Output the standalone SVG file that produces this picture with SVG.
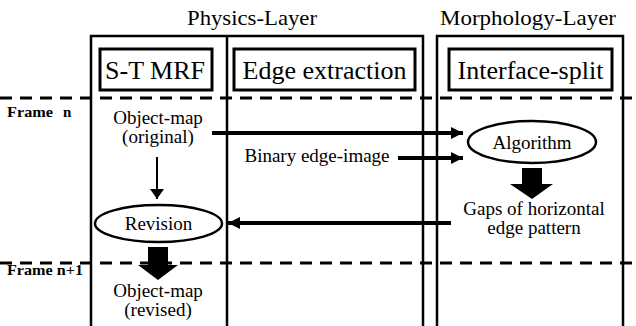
<svg xmlns="http://www.w3.org/2000/svg" width="636" height="326" viewBox="0 0 636 326">
<style>
text{fill:#000}
.ttl{font-size:22px;text-anchor:middle}
.lbl{font-size:26px;text-anchor:middle}
.body{font-size:19px;text-anchor:middle}
.frm{font-size:15px;font-weight:bold}
.outer{fill:none;stroke:#000;stroke-width:2.5}
.inner{fill:none;stroke:#000;stroke-width:3}
.dash{stroke:#000;stroke-width:3;stroke-dasharray:12 8}
.ell{fill:#fff;stroke:#000;stroke-width:2.5}
.thick{stroke:#000;stroke-width:4;fill:none}
</style>
<defs>
<marker id="ah" viewBox="0 0 12 12" refX="12" refY="6" markerWidth="12" markerHeight="12" markerUnits="userSpaceOnUse" orient="auto">
<path d="M0,0 L12,6 L0,12 Z" fill="#000"/>
</marker>
<marker id="ahs" viewBox="0 0 10 14" refX="10" refY="7" markerWidth="10" markerHeight="14" markerUnits="userSpaceOnUse" orient="auto">
<path d="M0,0 L10,7 L0,14 Z" fill="#000"/>
</marker>
</defs>
<g font-family="Liberation Serif, Times New Roman, serif">
<g id="frames">
<line class="dash" x1="0" y1="98" x2="636" y2="98"/>
<line class="dash" x1="0" y1="263" x2="636" y2="263"/>
<text class="frm" x="7" y="117"><tspan textLength="46" lengthAdjust="spacingAndGlyphs">Frame</tspan><tspan x="63">n</tspan></text>
<text class="frm" x="7" y="275" textLength="76" lengthAdjust="spacingAndGlyphs">Frame n+1</text>
</g>

<g id="physics-layer">
<text class="ttl" x="252" y="25" textLength="130" lengthAdjust="spacingAndGlyphs">Physics-Layer</text>
<rect class="outer" x="91" y="36" width="332" height="300"/>
<line class="outer" x1="227" y1="36" x2="227" y2="326"/>
</g>

<g id="morphology-layer">
<text class="ttl" x="528" y="25" textLength="176" lengthAdjust="spacingAndGlyphs">Morphology-Layer</text>
<rect class="outer" x="437" y="36" width="186" height="300"/>
</g>

<g id="st-mrf">
<rect class="inner" x="100" y="49" width="112" height="41"/>
<text class="lbl" x="155" y="79" font-size="27">S-T MRF</text>
</g>

<g id="edge-extraction">
<rect class="inner" x="234" y="49" width="181" height="41"/>
<text class="lbl" x="324.5" y="79">Edge extraction</text>
</g>

<g id="interface-split">
<rect class="inner" x="449" y="49" width="163" height="41"/>
<text class="lbl" x="530.5" y="79">Interface-split</text>
</g>

<g id="object-map-original">
<text class="body" x="158" y="124">Object-map</text>
<text class="body" x="158" y="143">(original)</text>
</g>

<g id="binary-edge-image">
<text class="body" x="317" y="162">Binary edge-image</text>
</g>

<g id="algorithm">
<ellipse class="ell" cx="532" cy="142" rx="64" ry="21"/>
<text class="body" x="532" y="149">Algorithm</text>
</g>

<g id="gaps">
<text class="body" x="534" y="215">Gaps of horizontal</text>
<text class="body" x="534" y="234">edge pattern</text>
</g>

<g id="revision">
<ellipse class="ell" cx="158.5" cy="223.5" rx="63.5" ry="18.5"/>
<text class="body" x="158.5" y="230">Revision</text>
</g>

<g id="object-map-revised">
<text class="body" x="158" y="297">Object-map</text>
<text class="body" x="158" y="316">(revised)</text>
</g>

<g id="connectors">
<line class="thick" x1="212" y1="133" x2="463" y2="133" marker-end="url(#ah)"/>
<line class="thick" x1="398" y1="158" x2="463" y2="158" marker-end="url(#ah)"/>
<line class="thick" x1="451" y1="223" x2="228" y2="223" marker-end="url(#ah)"/>
<line stroke="#000" stroke-width="2" x1="157" y1="157" x2="157" y2="199" marker-end="url(#ahs)"/>
<path d="M522,168 H542 V184 H553 L532,199 L510,184 H522 Z" fill="#000"/>
<path d="M148,247 H168 V265 H178 L158,280 L138,265 H148 Z" fill="#000"/>
</g>
</g>
</svg>
